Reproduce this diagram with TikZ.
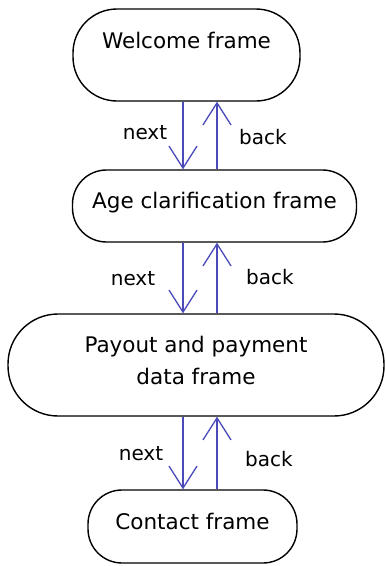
\documentclass[tikz,border=0pt]{standalone}
\usepackage{fontspec}
\setmainfont{DejaVu Sans}
\usetikzlibrary{arrows.meta,positioning}
\definecolor{linkblue}{HTML}{4A4AB8}

\tikzset{
  framebox/.style={draw=black,line width=1.4pt,fill=white,rounded corners=34pt,
                   align=center,font=\fontsize{21.5pt}{32pt}\selectfont},
  navarrow/.style={draw=linkblue,line width=1.3pt,
                   -{Straight Barb[length=22pt,width=28pt]}},
  lbl/.style={font=\fontsize{20pt}{24pt}\selectfont}
}

\begin{document}
\begin{tikzpicture}[x=1pt,y=-1pt]
\useasboundingbox (0,0) rectangle (386,566);

% frames, top to bottom
\node[framebox,minimum width=227pt,minimum height=92pt,rounded corners=44pt,
      text depth=30pt] (welcome) at (186.5,55) {Welcome frame};
\node[framebox,minimum width=284pt,minimum height=72pt,
      text depth=11pt] (age) at (214.5,206) {Age clarification frame};
\node[framebox,minimum width=376pt,minimum height=102pt,rounded corners=50pt,
      text depth=10pt] (payout) at (196,365) {Payout and payment\\data frame};
\node[framebox,minimum width=209pt,minimum height=73pt,
      text depth=11pt] (contact) at (192.5,526.5) {Contact frame};

% next goes down on the left line, back goes up on the right one
\coordinate (nx) at (183,0);
\coordinate (bx) at (217,0);
\foreach \a/\b in {welcome/age,age/payout,payout/contact}{
  \draw[navarrow] (\a.south -| nx) -- (\b.north -| nx);
  \draw[navarrow] (\b.north -| bx) -- (\a.south -| bx);
}

\node[lbl] (next1) at (145,133) {next};
\node[lbl] (back1) at (263,137) {back};
\node[lbl] (next2) at (133,279) {next};
\node[lbl] (back2) at (270,277) {back};
\node[lbl] (next3) at (141,454) {next};
\node[lbl] (back3) at (269,459) {back};
\end{tikzpicture}
\end{document}
